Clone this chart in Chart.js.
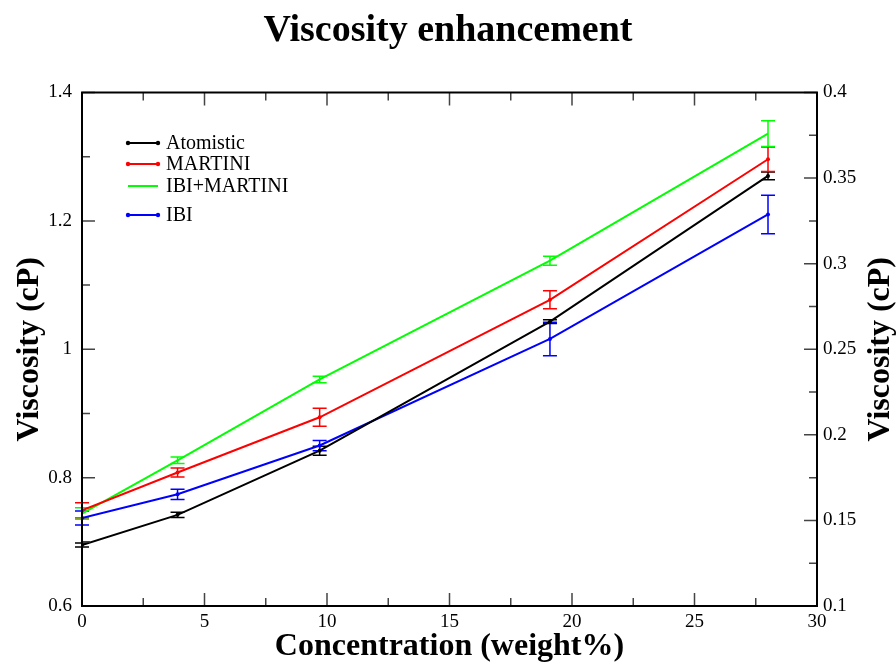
<!DOCTYPE html>
<html>
<head>
<meta charset="utf-8">
<script src="https://cdn.jsdelivr.net/npm/chart.js@4"></script>
<style>
  html,body{margin:0;padding:0;background:#fff;}
  #wrap{width:896px;height:664px;}
</style>
</head>
<body>
<div id="wrap"><canvas id="chart" width="896" height="664"></canvas></div>
<script>
// datos
const concentracion = [0, 3.9, 9.7, 19.1, 28];

const atomistic    = [0.695, 0.742, 0.842, 1.043, 1.270];
const atomisticErr = [0.003, 0.004, 0.007, 0.003, 0.006];

const martini    = [0.749, 0.808, 0.894, 1.077, 1.296];
const martiniErr = [0.012, 0.007, 0.014, 0.014, 0.019];

const ibiMartini    = [0.744, 0.827, 0.953, 1.138, 1.336];
const ibiMartiniErr = [0.009, 0.005, 0.005, 0.007, 0.020];

const ibi    = [0.737, 0.774, 0.850, 1.016, 1.210];
const ibiErr = [0.011, 0.008, 0.008, 0.026, 0.030];

const xTicks      = [0, 5, 10, 15, 20, 25, 30];
const yTicksLeft  = [0.6, 0.8, 1, 1.2, 1.4];
const yTicksRight = [0.1, 0.15, 0.2, 0.25, 0.3, 0.35, 0.4];

const FONT = "'Liberation Serif', 'DejaVu Serif', serif";

function puntos(ys){
  return concentracion.map((x,i)=>({x:x, y:ys[i]}));
}

function serie(label, ys, errs, color, conPuntos){
  return {
    label: label,
    data: puntos(ys),
    errores: errs,
    borderColor: color,
    backgroundColor: color,
    borderWidth: 2,
    pointRadius: conPuntos ? 2 : 0,
    pointBorderWidth: 0,
    tension: 0,
    conPuntos: conPuntos
  };
}

const datasets = [
  serie('Atomistic', atomistic, atomisticErr, '#000000', true),
  serie('MARTINI', martini, martiniErr, '#ff0000', true),
  serie('IBI+MARTINI', ibiMartini, ibiMartiniErr, '#00ff00', false),
  serie('IBI', ibi, ibiErr, '#0000ff', true)
];

// barras de error
const errorBars = {
  id: 'errorBars',
  beforeDatasetsDraw(chart){
    const ctx = chart.ctx;
    const xs = chart.scales.x, ys = chart.scales.y;
    ctx.save();
    chart.data.datasets.forEach(ds=>{
      ctx.strokeStyle = ds.borderColor;
      ctx.lineWidth = 1.5;
      ds.data.forEach((p,i)=>{
        const e = ds.errores[i];
        const px = xs.getPixelForValue(p.x);
        const top = ys.getPixelForValue(p.y + e);
        const bot = ys.getPixelForValue(p.y - e);
        ctx.beginPath();
        ctx.moveTo(px, top); ctx.lineTo(px, bot);
        ctx.moveTo(px-7, top); ctx.lineTo(px+7, top);
        ctx.moveTo(px-7, bot); ctx.lineTo(px+7, bot);
        ctx.stroke();
      });
    });
    ctx.restore();
  }
};

// marco, ticks hacia adentro, leyenda y titulo derecho
const marco = {
  id: 'marco',
  afterDraw(chart){
    const ctx = chart.ctx;
    const a = chart.chartArea;
    const xs = chart.scales.x, yl = chart.scales.y, yr = chart.scales.y2;
    ctx.save();

    // ticks
    ctx.strokeStyle = '#444';
    ctx.lineWidth = 1.5;
    ctx.beginPath();
    for(let v=0; v<=30; v+=2.5){
      const px = xs.getPixelForValue(v);
      const len = (v % 5 === 0) ? 13 : 8;
      ctx.moveTo(px, a.bottom); ctx.lineTo(px, a.bottom - len);
      ctx.moveTo(px, a.top); ctx.lineTo(px, a.top + len);
    }
    for(let k=0; k<=8; k++){
      const v = 0.6 + k*0.1;
      const py = yl.getPixelForValue(v);
      const len = (k % 2 === 0) ? 13 : 8;
      ctx.moveTo(a.left, py); ctx.lineTo(a.left + len, py);
    }
    for(let k=0; k<=12; k++){
      const v = 0.1 + k*0.025;
      const py = yr.getPixelForValue(v);
      const len = (k % 2 === 0) ? 13 : 8;
      ctx.moveTo(a.right, py); ctx.lineTo(a.right - len, py);
    }
    ctx.stroke();

    // marco
    ctx.strokeStyle = '#000';
    ctx.lineWidth = 2;
    ctx.strokeRect(a.left, a.top, a.right - a.left, a.bottom - a.top);

    // leyenda
    const filas = [143, 164, 186, 215];
    ctx.font = '20px ' + FONT;
    ctx.textBaseline = 'middle';
    ctx.textAlign = 'left';
    chart.data.datasets.forEach((ds,i)=>{
      const y = filas[i];
      ctx.strokeStyle = ds.borderColor;
      ctx.fillStyle = ds.borderColor;
      ctx.lineWidth = 2;
      ctx.beginPath();
      ctx.moveTo(128, y); ctx.lineTo(158, y);
      ctx.stroke();
      if(ds.conPuntos){
        ctx.beginPath(); ctx.arc(128, y, 2.2, 0, Math.PI*2); ctx.fill();
        ctx.beginPath(); ctx.arc(158, y, 2.2, 0, Math.PI*2); ctx.fill();
      }
      ctx.fillStyle = '#000';
      ctx.fillText(ds.label, 166, y + 1);
    });

    // titulo eje derecho
    ctx.translate(881, (a.top + a.bottom)/2);
    ctx.rotate(-Math.PI/2);
    ctx.font = 'bold 32px ' + FONT;
    ctx.textAlign = 'center';
    ctx.fillStyle = '#000';
    ctx.fillText('Viscosity (cP)', 0, 0);
    ctx.restore();
  }
};

function fijarTicks(valores){
  return function(scale){
    scale.ticks = valores.map(v=>({value:v}));
  };
}

function etiqueta(v){
  return String(Number(v.toFixed(3)));
}

const chart = new Chart(document.getElementById('chart'), {
  type: 'line',
  data: { datasets: datasets },
  plugins: [errorBars, marco],
  options: {
    responsive: false,
    animation: false,
    devicePixelRatio: 1,
    layout: { padding: 0 },
    plugins: {
      legend: { display: false },
      tooltip: { enabled: false },
      title: {
        display: true,
        text: 'Viscosity enhancement',
        color: '#000',
        font: { family: FONT, size: 38, weight: 'bold' },
        padding: { top: 8, bottom: 38.9 }
      }
    },
    scales: {
      x: {
        type: 'linear',
        min: 0, max: 30,
        afterBuildTicks: fijarTicks(xTicks),
        afterFit(s){ s.height = 58; },
        grid: { display: false, drawTicks: false },
        border: { display: false },
        ticks: { color: '#000', font: { family: FONT, size: 19 }, padding: 5, maxRotation: 0, autoSkip: false, callback: etiqueta },
        title: {
          display: true,
          text: 'Concentration (weight%)',
          color: '#000',
          font: { family: FONT, size: 32, weight: 'bold' },
          padding: { top: 0, bottom: -2 }
        }
      },
      y: {
        type: 'linear',
        position: 'left',
        min: 0.6, max: 1.4,
        afterBuildTicks: fijarTicks(yTicksLeft),
        afterFit(s){ s.width = 82; },
        grid: { display: false, drawTicks: false },
        border: { display: false },
        ticks: { color: '#000', font: { family: FONT, size: 19 }, padding: 10, callback: etiqueta },
        title: {
          display: true,
          text: 'Viscosity (cP)',
          color: '#000',
          font: { family: FONT, size: 32, weight: 'bold' },
          padding: { top: 11, bottom: 0 }
        }
      },
      y2: {
        type: 'linear',
        position: 'right',
        min: 0.1, max: 0.4,
        afterBuildTicks: fijarTicks(yTicksRight),
        afterFit(s){ s.width = 79; },
        grid: { display: false, drawTicks: false },
        border: { display: false },
        ticks: { color: '#000', font: { family: FONT, size: 19 }, padding: 6, callback: etiqueta }
      }
    }
  }
});
</script>
</body>
</html>
